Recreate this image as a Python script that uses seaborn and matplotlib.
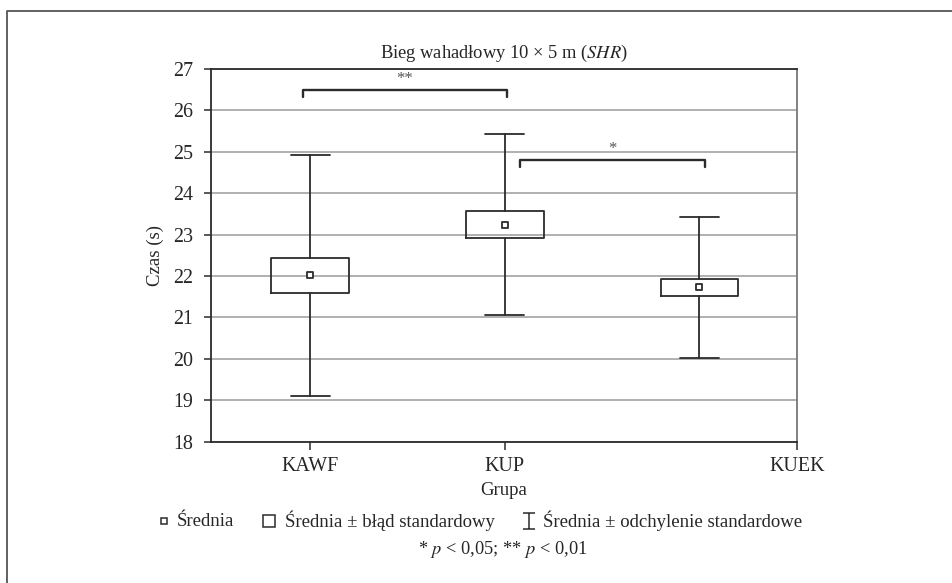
import numpy as np
import pandas as pd
import matplotlib
matplotlib.use("Agg")
import matplotlib.pyplot as plt
from matplotlib.lines import Line2D
from matplotlib.path import Path
import seaborn as sns

# values
groups = ["KAWF", "KUP", "KUEK"]
mean = [22.03, 23.24, 21.73]
se_low = [21.59, 22.91, 21.51]
se_high = [22.44, 23.58, 21.93]
sd_low = [19.10, 21.05, 20.01]
sd_high = [24.91, 25.43, 23.42]

# significance brackets: (x start, x end, y, label)
brackets = [(0.96, 2.01, 26.49, "**"), (2.075, 3.03, 24.80, "*")]

sns.set_theme(style="white")
plt.rcParams["font.family"] = ["Liberation Serif", "DejaVu Serif"]
plt.rcParams["mathtext.fontset"] = "stix"

dark = "#2b2b2b"
W, H = 953, 583

fig = plt.figure(figsize=(9.53, 5.83), dpi=100)
ax = fig.add_axes([211 / W, 1 - 441.7 / H, (796.7 - 211) / W, (441.7 - 68.8) / H])

pos = [1, 2, 3]
stats = []
for i, g in enumerate(groups):
    stats.append(dict(label=g, med=mean[i], q1=se_low[i], q3=se_high[i],
                      whislo=sd_low[i], whishi=sd_high[i], fliers=[]))

ax.bxp(stats, positions=pos, widths=0.4, capwidths=0.2, showfliers=False,
       boxprops=dict(color=dark, lw=1.3),
       whiskerprops=dict(color=dark, lw=1.3),
       capprops=dict(color=dark, lw=1.3),
       medianprops=dict(lw=0), zorder=3)

df = pd.DataFrame({"x": pos, "mean": mean})
sns.scatterplot(data=df, x="x", y="mean", marker="s", s=16, facecolor="white",
                edgecolor=dark, linewidth=1.3, ax=ax, zorder=4, legend=False)

for x0, x1, y, lab in brackets:
    ax.plot([x0, x0, x1, x1], [y - 0.16, y, y, y - 0.16], color=dark, lw=1.7, zorder=4)
    ax.text((x0 + x1) / 2, y + 0.06, lab, ha="center", va="bottom", fontsize=12, color="#555555")

ax.set_xlim(0.489, 3.5)
ax.set_ylim(18, 27)
ax.set_yticks(range(18, 28))
ax.set_xticks([1, 2, 3.5])
ax.set_xticklabels(groups)
ax.yaxis.grid(True, color="#aaaaaa", lw=1.3)
ax.set_axisbelow(True)
for s in ax.spines.values():
    s.set_color(dark)
    s.set_linewidth(1.3)
ax.spines["right"].set_color("#777777")
ax.tick_params(axis="both", direction="out", length=5, width=1.1, color=dark,
               labelsize=14.4, pad=8, bottom=True, left=True)
ax.tick_params(axis="x", pad=5, length=6)
ax.set_xlabel("Grupa", fontsize=13.5, labelpad=4)
ax.set_ylabel("Czas (s)", fontsize=13.5, labelpad=6)
ax.set_title("Bieg wahadłowy 10 × 5 m ($\\it{SHR}$)", fontsize=13.3, pad=8)

# legend, drawn by hand to keep the spacing of the original
ibeam = Path([(-0.8, 1), (0.8, 1), (0, 1), (0, -1), (-0.8, -1), (0.8, -1)],
             [Path.MOVETO, Path.LINETO, Path.MOVETO, Path.LINETO, Path.MOVETO, Path.LINETO])
leg_y = 1 - 521 / H
leg_items = [
    (164, 177, dict(marker="s", ms=4, mfc="white", mec=dark, mew=1.1), "Średnia"),
    (269, 285, dict(marker="s", ms=9, mfc="white", mec=dark, mew=1.1), "Średnia ± błąd standardowy"),
    (529, 543, dict(marker=ibeam, ms=11, mfc="none", mec=dark, mew=1.1), "Średnia ± odchylenie standardowe"),
]
for mx, tx, mk, lab in leg_items:
    fig.add_artist(Line2D([mx / W], [leg_y], ls="none", transform=fig.transFigure, **mk))
    fig.text(tx / W, leg_y, lab, ha="left", va="center", fontsize=13.5)

fig.text(503 / W, 1 - 549 / H, "* $p$ < 0,05; ** $p$ < 0,01", ha="center", va="center",
         fontsize=13.2)

# outer frame
fig.add_artist(Line2D([7.5 / W, 7.5 / W, 1], [0, 1 - 11 / H, 1 - 11 / H],
                      transform=fig.transFigure, color="#555555", lw=1.3))

fig.savefig("out.png", dpi=100)
